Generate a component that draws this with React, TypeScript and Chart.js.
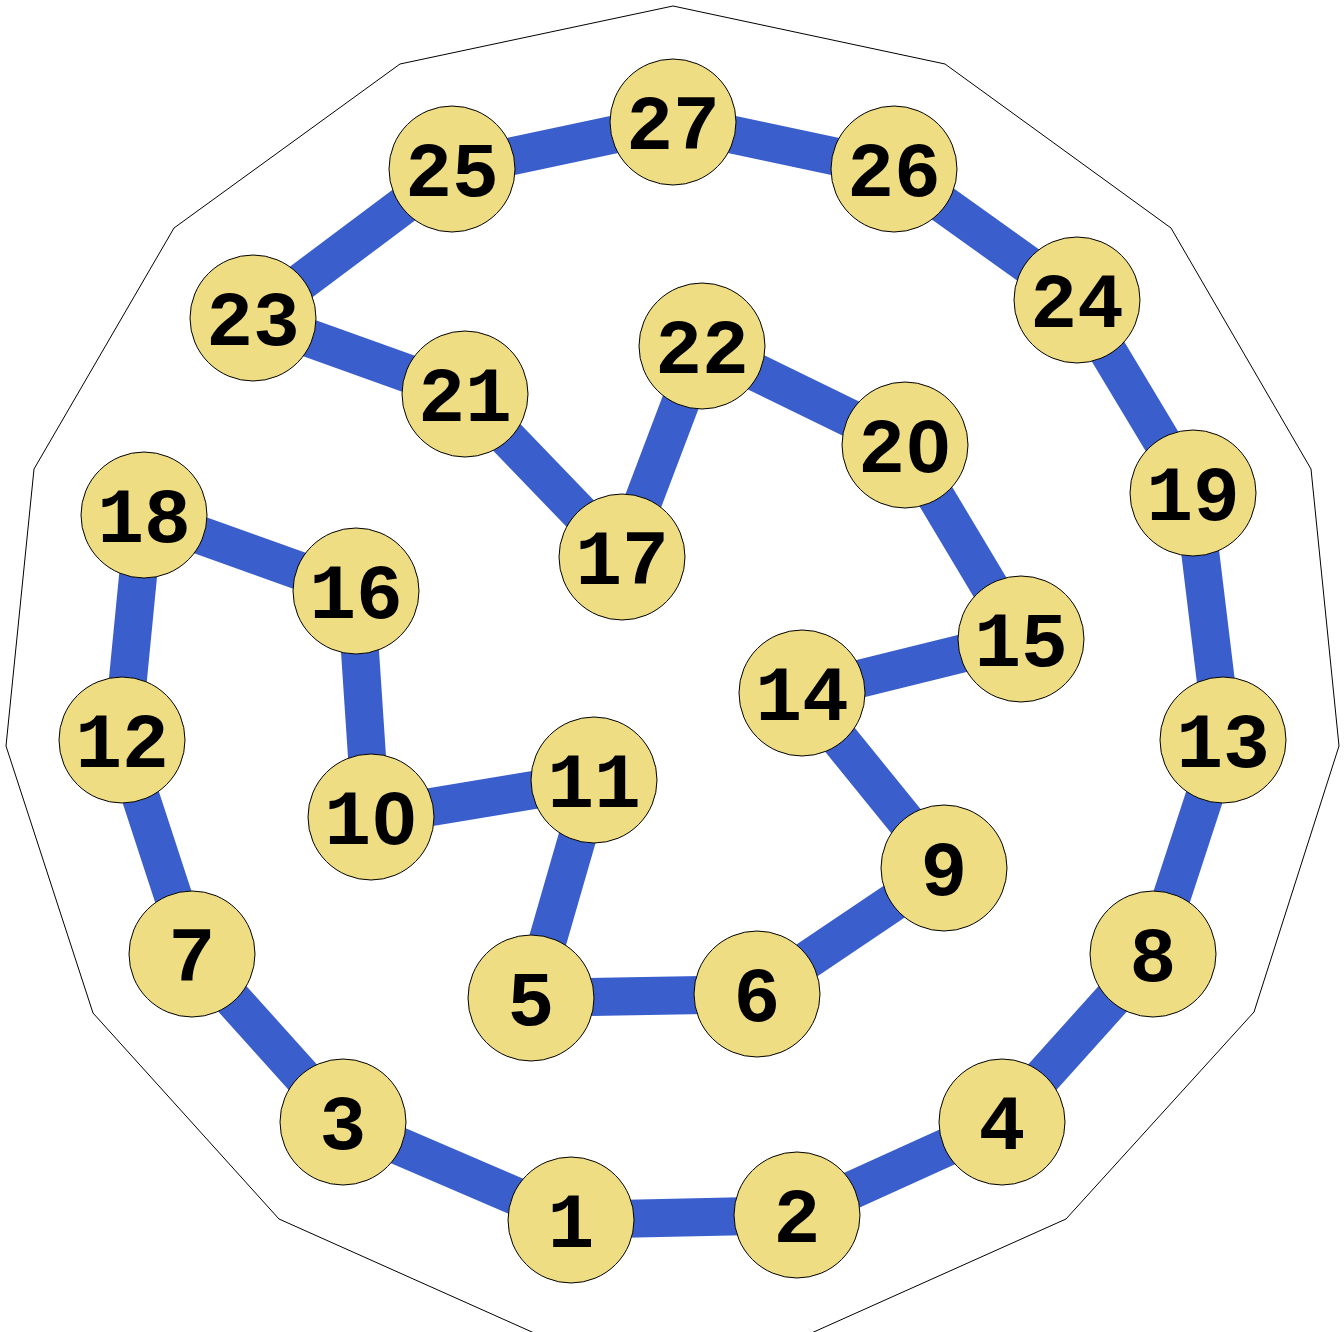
import React, { useEffect, useRef } from "react";
import { Chart, registerables } from "chart.js";

Chart.register(...registerables);

// Node labels and positions (pixel-space units of the original picture, y downward)
const nodeIds = [1, 2, 3, 4, 5, 6, 7, 8, 9, 10, 11, 12, 13, 14, 15, 16, 17, 18, 19, 20, 21, 22, 23, 24, 25, 26, 27];
const nodeX = [571, 797, 343, 1002, 531, 757, 192, 1153, 944, 371, 594, 122, 1223, 802, 1021, 356, 622, 144, 1193, 905, 465, 702, 253, 1077, 452, 894, 673];
const nodeY = [1220, 1215, 1122, 1122, 998, 994, 954, 954, 868, 817, 780, 740, 740, 693, 639, 591, 557, 515, 493, 445, 394, 346, 318, 300, 169, 169, 122];

// Edge cycle through the nodes
const cycleOrder = [27, 25, 23, 21, 17, 22, 20, 15, 14, 9, 6, 5, 11, 10, 16, 18, 12, 7, 3, 1, 2, 4, 8, 13, 19, 24, 26, 27];

// Outer polygon outline
const polyX = [673, 945, 1171, 1311, 1339, 1254, 1066, 673, 279, 93, 6, 34, 174, 400, 673];
const polyY = [6, 64, 228, 469, 746, 1012, 1219, 1395, 1219, 1013, 746, 469, 228, 64, 6];

const W = 1344;
const H = 1332;
const NODE_FILL = "#EEDD82";
const FONT_PX = 78;

export default function App() {
  const ref = useRef<HTMLCanvasElement | null>(null);

  useEffect(() => {
    const canvas = ref.current;
    if (!canvas) return;
    const nodePts = nodeIds.map((id, i) => ({ x: nodeX[i], y: nodeY[i], id }));
    const edgePts = cycleOrder.map((id) => {
      const i = nodeIds.indexOf(id);
      return { x: nodeX[i], y: nodeY[i] };
    });
    const polyPts = polyX.map((x, i) => ({ x, y: polyY[i] }));

    const labelPlugin = {
      id: "nodeLabels",
      afterDatasetsDraw(chart: any) {
        const ctx = chart.ctx;
        const xs = chart.scales.x;
        const ys = chart.scales.y;
        ctx.save();
        ctx.font = `bold ${FONT_PX}px 'Liberation Mono', 'Courier New', monospace`;
        ctx.textAlign = "left";
        ctx.textBaseline = "alphabetic";
        nodePts.forEach((p) => {
          const label = String(p.id);
          const px = xs.getPixelForValue(p.x);
          const py = ys.getPixelForValue(p.y);
          const w = ctx.measureText(label).width;
          const adv = w / label.length;
          const x0 = px - w / 2;
          const base = py + 27;
          ctx.fillStyle = "#000000";
          ctx.fillText(label, x0, base);
          // plain (undotted) zero like the reference typeface
          for (let k = 0; k < label.length; k++) {
            if (label[k] === "0") {
              const cx = x0 + (k + 0.5) * adv;
              const cy = base - FONT_PX * 0.33;
              ctx.fillStyle = NODE_FILL;
              ctx.beginPath();
              ctx.ellipse(cx, cy, FONT_PX * 0.085, FONT_PX * 0.16, 0, 0, Math.PI * 2);
              ctx.fill();
            }
          }
        });
        ctx.restore();
      },
    };

    const chart = new Chart(canvas, {
      type: "scatter",
      data: {
        datasets: [
          {
            label: "nodes",
            data: nodePts,
            pointRadius: 63,
            pointHoverRadius: 63,
            pointBackgroundColor: NODE_FILL,
            pointBorderColor: "#000000",
            pointBorderWidth: 1,
            showLine: false,
            order: 0,
          } as any,
          {
            label: "edges",
            data: edgePts,
            showLine: true,
            borderColor: "#3A5FCD",
            borderWidth: 38,
            pointRadius: 0,
            tension: 0,
            order: 1,
          } as any,
          {
            label: "outline",
            data: polyPts,
            showLine: true,
            borderColor: "#000000",
            borderWidth: 1,
            pointRadius: 0,
            tension: 0,
            order: 2,
          } as any,
        ],
      },
      options: {
        animation: false,
        responsive: false,
        maintainAspectRatio: false,
        layout: { padding: 0, autoPadding: false } as any,
        plugins: {
          legend: { display: false },
          tooltip: { enabled: false },
        },
        scales: {
          x: { type: "linear", min: 0, max: W, display: false },
          y: { type: "linear", min: 0, max: H, reverse: true, display: false },
        },
        events: [],
      },
      plugins: [labelPlugin],
    });
    return () => chart.destroy();
  }, []);

  return (
    <div style={{ position: "absolute", left: 0, top: 0, width: W, height: H, background: "#ffffff" }}>
      <canvas ref={ref} width={W} height={H} style={{ width: W, height: H, display: "block" }} />
    </div>
  );
}
